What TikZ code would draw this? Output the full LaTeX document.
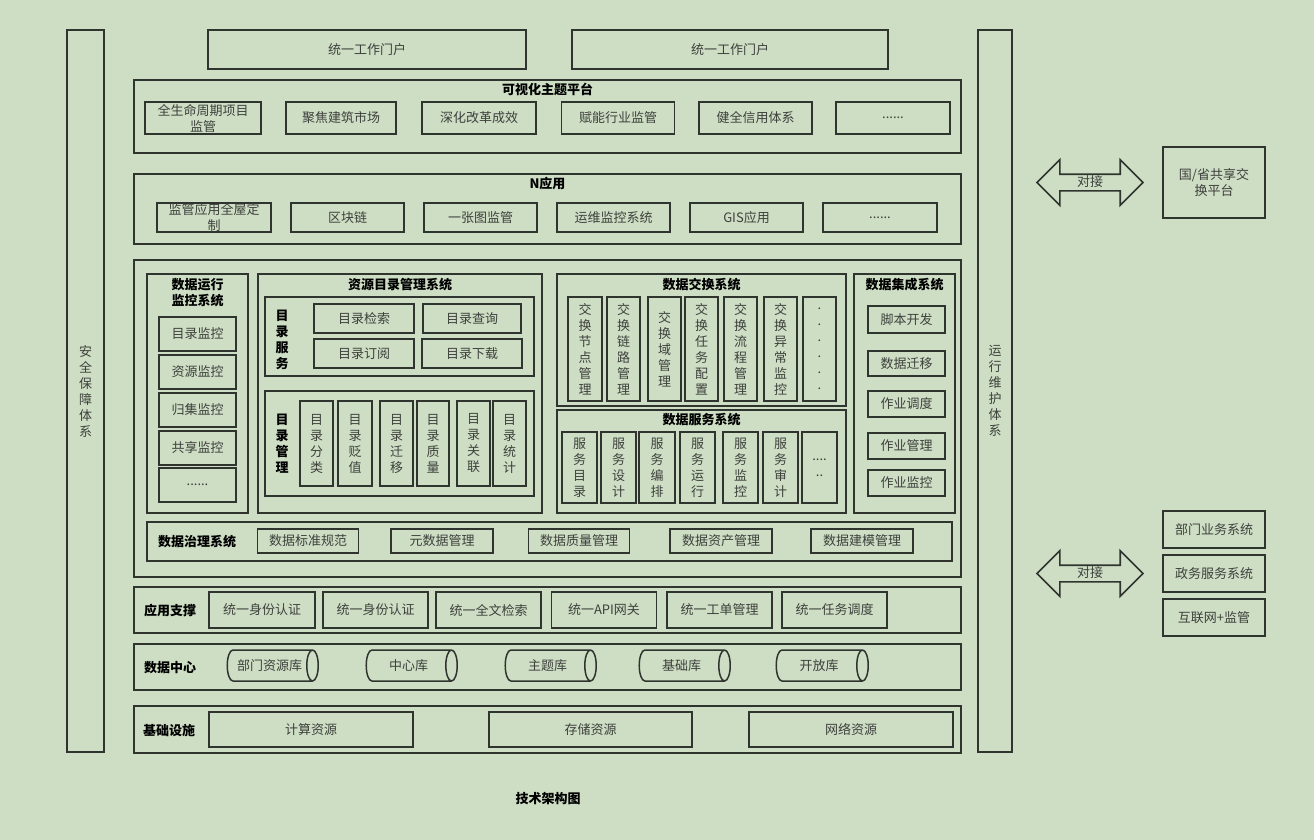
\documentclass[tikz,border=0pt]{standalone}
\usepackage{fontspec}
\setmainfont{Noto Sans CJK SC}
\usetikzlibrary{shapes.geometric,shapes.arrows}
\definecolor{bgc}{RGB}{205,222,196}
\definecolor{edgec}{RGB}{48,52,46}
\definecolor{inkc}{RGB}{62,64,60}
\tikzset{
  box/.style={draw=edgec,line width=1.7pt,inner sep=0pt,align=center},
  sz/.style 2 args={minimum width=#1pt,minimum height=#2pt},
  ttl/.style={font=\fontsize{13}{16}\selectfont\bfseries,text=black,align=center,inner sep=0pt},
  db/.style={cylinder,draw=edgec,line width=1.5pt,shape aspect=.95,inner sep=0pt},
  link/.style={double arrow,draw=edgec,line width=1.7pt,double arrow tip angle=90,
    double arrow head extend=14.5pt,inner xsep=0pt,inner ysep=1pt,text height=10pt,text depth=3pt}
}

\begin{document}
\begin{tikzpicture}[
  x=1pt,y=-1pt,
  every node/.style={font=\fontsize{13}{16}\selectfont,text=inkc}
]
\fill[bgc] (0,0) rectangle (1314,840);

% side bars
\node[box,sz={37}{722}] (safe) at (85.5,391) {安\\全\\保\\障\\体\\系};
\node[box,sz={34}{722}] (ops) at (995,391) {运\\行\\维\\护\\体\\系};

% portal
\node[box,sz={318}{39}] (portA) at (367,49.5) {统一工作门户};
\node[box,sz={316}{39}] (portB) at (730,49.5) {统一工作门户};

% visual platform
\node[box,sz={827}{73}] (viz) at (547.5,116.5) {};
\node[ttl] (vizT) at (547.5,89) {可视化主题平台};
\node[box,sz={116}{32}] (viz1) at (203,118) {全生命周期项目\\监管};
\node[box,sz={110}{32}] (viz2) at (341,118) {聚焦建筑市场};
\node[box,sz={114}{32}] (viz3) at (479,118) {深化改革成效};
\node[box,sz={113}{32}] (viz4) at (618,118) {赋能行业监管};
\node[box,sz={113}{32}] (viz5) at (755.5,118) {健全信用体系};
\node[box,sz={114}{32}] (viz6) at (893,118) {......};

% N apps
\node[box,sz={827}{70}] (napp) at (547.5,209) {};
\node[ttl] (nappT) at (547.5,184) {N应用};
\node[box,sz={114}{29}] (app1) at (214,217.5) {监管应用全屋定\\制};
\node[box,sz={113}{29}] (app2) at (347.5,217.5) {区块链};
\node[box,sz={113}{29}] (app3) at (480.5,217.5) {一张图监管};
\node[box,sz={113}{29}] (app4) at (613.5,217.5) {运维监控系统};
\node[box,sz={113}{29}] (app5) at (746.5,217.5) {GIS应用};
\node[box,sz={114}{29}] (app6) at (880,217.5) {......};

% data layer
\node[box,sz={827}{317}] (mid) at (547.5,418.5) {};

\node[box,sz={101}{239}] (mon) at (197.5,393.5) {};
\node[ttl] (monT) at (197.5,292.5) {数据运行\\监控系统};
\node[box,sz={77}{34}] (mon1) at (197.5,334) {目录监控};
\node[box,sz={77}{34}] (mon2) at (197.5,372) {资源监控};
\node[box,sz={77}{34}] (mon3) at (197.5,410) {归集监控};
\node[box,sz={77}{34}] (mon4) at (197.5,448) {共享监控};
\node[box,sz={77}{34}] (mon5) at (197.5,485) {......};

\node[box,sz={284}{239}] (cat) at (400,393.5) {};
\node[ttl] (catT) at (400,285) {资源目录管理系统};
\node[box,sz={269}{79}] (catS) at (399.5,336.5) {};
\node[ttl] (catSL) at (282,340) {目\\录\\服\\务};
\node[box,sz={100}{29}] (cs1) at (364,318.5) {目录检索};
\node[box,sz={98}{29}] (cs2) at (472,318.5) {目录查询};
\node[box,sz={100}{29}] (cs3) at (364,353.5) {目录订阅};
\node[box,sz={100}{29}] (cs4) at (472,353.5) {目录下载};
\node[box,sz={269}{105}] (catM) at (399.5,443.5) {};
\node[ttl] (catML) at (282,444) {目\\录\\管\\理};
\node[box,sz={33}{85}] (cm1) at (316.5,443.5) {目\\录\\分\\类};
\node[box,sz={34}{85}] (cm2) at (355,443.5) {目\\录\\贬\\值};
\node[box,sz={33}{85}] (cm3) at (396.5,443.5) {目\\录\\迁\\移};
\node[box,sz={32}{85}] (cm4) at (433,443.5) {目\\录\\质\\量};
\node[box,sz={33}{85}] (cm5) at (473.5,443.5) {目\\录\\关\\联};
\node[box,sz={33}{85}] (cm6) at (509.5,443.5) {目\\录\\统\\计};

\node[box,sz={289}{132}] (xch) at (701.5,340) {};
\node[ttl] (xchT) at (701.5,285) {数据交换系统};
\node[box,sz={34}{104}] (xc1) at (585,349) {交\\换\\节\\点\\管\\理};
\node[box,sz={33}{104}] (xc2) at (623.5,349) {交\\换\\链\\路\\管\\理};
\node[box,sz={33}{104}] (xc3) at (664.5,349) {交\\换\\域\\管\\理};
\node[box,sz={33}{104}] (xc4) at (701.5,349) {交\\换\\任\\务\\配\\置};
\node[box,sz={33}{104}] (xc5) at (740.5,349) {交\\换\\流\\程\\管\\理};
\node[box,sz={33}{104}] (xc6) at (780.5,349) {交\\换\\异\\常\\监\\控};
\node[box,sz={33}{104}] (xc7) at (819.5,349) {.\\.\\.\\.\\.\\.};

\node[box,sz={289}{103}] (srv) at (701.5,461.5) {};
\node[ttl] (srvT) at (701.5,420) {数据服务系统};
\node[box,sz={35}{71}] (sv1) at (579.5,467.5) {服\\务\\目\\录};
\node[box,sz={35}{71}] (sv2) at (618.5,467.5) {服\\务\\设\\计};
\node[box,sz={36}{71}] (sv3) at (657,467.5) {服\\务\\编\\排};
\node[box,sz={35}{71}] (sv4) at (697.5,467.5) {服\\务\\运\\行};
\node[box,sz={35}{71}] (sv5) at (740.5,467.5) {服\\务\\监\\控};
\node[box,sz={35}{71}] (sv6) at (780.5,467.5) {服\\务\\审\\计};
\node[box,sz={35}{71}] (sv7) at (819.5,467.5) {....\\..};

\node[box,sz={101}{239}] (intg) at (904.5,393.5) {};
\node[ttl] (intgT) at (904.5,285) {数据集成系统};
\node[box,sz={77}{27}] (ig1) at (906.5,319.5) {脚本开发};
\node[box,sz={77}{25}] (ig2) at (906.5,363.5) {数据迁移};
\node[box,sz={77}{26}] (ig3) at (906.5,404) {作业调度};
\node[box,sz={77}{26}] (ig4) at (906.5,446) {作业管理};
\node[box,sz={77}{26}] (ig5) at (906.5,483) {作业监控};

\node[box,sz={805}{39}] (gov) at (549.5,541.5) {};
\node[ttl] (govT) at (197,542) {数据治理系统};
\node[box,sz={101}{24}] (gv1) at (308,541) {数据标准规范};
\node[box,sz={102}{24}] (gv2) at (442,541) {元数据管理};
\node[box,sz={101}{24}] (gv3) at (579,541) {数据质量管理};
\node[box,sz={102}{24}] (gv4) at (721,541) {数据资产管理};
\node[box,sz={102}{24}] (gv5) at (862,541) {数据建模管理};

% support
\node[box,sz={827}{46}] (supp) at (547.5,610) {};
\node[ttl] (suppT) at (170,611) {应用支撑};
\node[box,sz={106}{36}] (sp1) at (262,610) {统一身份认证};
\node[box,sz={105}{36}] (sp2) at (375.5,610) {统一身份认证};
\node[box,sz={105}{36}] (sp3) at (488.5,610) {统一全文检索};
\node[box,sz={105}{36}] (sp4) at (604,610) {统一API网关};
\node[box,sz={105}{36}] (sp5) at (719.5,610) {统一工单管理};
\node[box,sz={105}{36}] (sp6) at (834.5,610) {统一任务调度};

% data center
\node[box,sz={827}{46}] (dc) at (547.5,667) {};
\node[ttl] (dcT) at (170,668) {数据中心};
\node[db,sz={31}{91}] (db1) at (269.5,665.5) {部门资源库};
\node[db,sz={31}{91}] (db2) at (408.5,665.5) {中心库};
\node[db,sz={31}{91}] (db3) at (547.5,665.5) {主题库};
\node[db,sz={31}{91}] (db4) at (681.5,665.5) {基础库};
\node[db,sz={31}{92}] (db5) at (819,665.5) {开放库};

% infrastructure
\node[box,sz={827}{47}] (inf) at (547.5,729.5) {};
\node[ttl] (infT) at (169,731) {基础设施};
\node[box,sz={204}{35}] (rs1) at (311,729.5) {计算资源};
\node[box,sz={203}{35}] (rs2) at (590.5,729.5) {存储资源};
\node[box,sz={204}{35}] (rs3) at (851,729.5) {网络资源};

\node[ttl] (title) at (548,799) {技术架构图};

% outside
\node[link,sz={43}{106}] (linkA) at (1090,182.5) {对接};
\node[box,sz={102}{71}] (nat) at (1214,182.5) {国/省共享交\\换平台};
\node[link,sz={43}{106}] (linkB) at (1090,573.5) {对接};
\node[box,sz={102}{37}] (ext1) at (1214,529.5) {部门业务系统};
\node[box,sz={102}{37}] (ext2) at (1214,573.5) {政务服务系统};
\node[box,sz={102}{37}] (ext3) at (1214,617.5) {互联网+监管};
\end{tikzpicture}
\end{document}
